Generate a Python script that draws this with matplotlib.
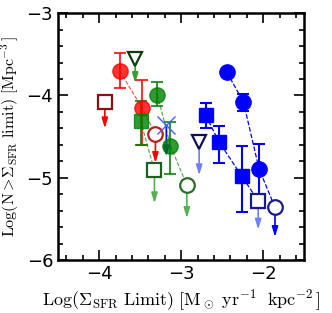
import matplotlib
matplotlib.use("Agg")
import matplotlib.pyplot as plt
from matplotlib.ticker import MultipleLocator

# filled points with error bars: x, y, y_upper, y_lower
red_x = [-3.75, -3.475]
red_y = [-3.70, -4.155]
red_hi = [-3.49, -3.81]
red_lo = [-3.91, -4.60]

green_circ_x = [-3.29, -3.13]
green_circ_y = [-3.99, -4.61]
green_circ_hi = [-3.84, -4.32]
green_circ_lo = [-4.13, -4.95]

green_sq_x = [-3.495]
green_sq_y = [-4.305]
green_sq_hi = [-4.07]
green_sq_lo = [-4.60]

blue_sq_x = [-2.70, -2.54, -2.26]
blue_sq_y = [-4.24, -4.56, -4.98]
blue_sq_hi = [-4.09, -4.37, -4.61]
blue_sq_lo = [-4.39, -4.82, -5.42]

blue_circ_x = [-2.44, -2.24, -2.05]
blue_circ_y = [-3.72, -4.08, -4.89]
blue_circ_hi = [-3.72, -3.985, -4.59]
blue_circ_lo = [-3.72, -4.19, -5.37]

# upper limits: x, y, arrow end
lim_x = [-3.93, -3.313, -3.56, -3.325, -2.93, -3.18, -2.78, -2.06, -1.855]
lim_y = [-4.08, -4.47, -3.56, -4.91, -5.09, -4.36, -4.57, -5.28, -5.36]
lim_end = [-4.40, -4.82, -3.85, -5.31, -5.49, -4.74, -4.97, -5.63, -5.72]
lim_marker = ["s", "o", "v", "s", "o", "x", "v", "s", "o"]
lim_edge = ["#8b1010", "#b22222", "#0a3d0a", "#1e5e1e", "#2a6e2a", "#4060ff", "#101050", "#1a1a90", "#1a1a90"]
lim_arrow = ["red", "red", "#33a033", "#55b055", "#55b055", "blue", "#7080ff", "#7080ff", "blue"]


def errpts(ax, x, y, hi, lo, color, marker, ms, alpha):
    yerr = [[yy - l for yy, l in zip(y, lo)], [h - yy for yy, h in zip(y, hi)]]
    ax.errorbar(x, y, yerr=yerr, fmt=marker, color=color, ms=ms, mec=color,
                capsize=4, elinewidth=1.5, capthick=1.5, alpha=alpha, zorder=3)


plt.rcParams["mathtext.fontset"] = "cm"
fig = plt.figure(figsize=(3.32, 3.13), dpi=100)
ax = fig.add_axes([0.175, 0.169, 0.741, 0.789])

# dashed connecting lines
ax.plot([red_x[0], red_x[1], lim_x[1]], [red_y[0], red_y[1], lim_y[1]], "--", color="red", lw=0.8, alpha=0.7)
ax.plot([green_circ_x[0], green_circ_x[1], lim_x[4]], [green_circ_y[0], green_circ_y[1], lim_y[4]],
        "--", color="green", lw=0.8, alpha=0.7)
ax.plot([green_sq_x[0], lim_x[3]], [green_sq_y[0], lim_y[3]], "--", color="green", lw=0.8, alpha=0.7)
ax.plot(blue_sq_x + [lim_x[7]], blue_sq_y + [lim_y[7]], "--", color="blue", lw=0.9)
ax.plot(blue_circ_x + [lim_x[8]], blue_circ_y + [lim_y[8]], "--", color="blue", lw=0.9)

# arrows for upper limits
for x, y, e, c in zip(lim_x, lim_y, lim_end, lim_arrow):
    ax.annotate("", xy=(x, e), xytext=(x, y),
                arrowprops=dict(arrowstyle="-|>,head_width=0.18,head_length=0.6", color=c, lw=1.2,
                                shrinkA=0, shrinkB=0), zorder=2)

errpts(ax, red_x, red_y, red_hi, red_lo, "red", "o", 11, 0.8)
errpts(ax, green_sq_x, green_sq_y, green_sq_hi, green_sq_lo, "green", "s", 10, 0.8)
errpts(ax, green_circ_x, green_circ_y, green_circ_hi, green_circ_lo, "green", "o", 11, 0.8)
errpts(ax, blue_sq_x, blue_sq_y, blue_sq_hi, blue_sq_lo, "blue", "s", 10, 1.0)
errpts(ax, blue_circ_x, blue_circ_y, blue_circ_hi, blue_circ_lo, "blue", "o", 11, 1.0)

for x, y, m, c in zip(lim_x, lim_y, lim_marker, lim_edge):
    if m == "x":
        ax.plot(x, y, m, color=c, ms=13, mew=1.0, zorder=4)
    else:
        ax.plot(x, y, m, mfc="white", mec=c, ms=10 if m != "o" else 10.5, mew=1.6, zorder=4)

ax.set_xlim(-4.5, -1.5)
ax.set_ylim(-6, -3)
ax.xaxis.set_major_locator(MultipleLocator(1))
ax.yaxis.set_major_locator(MultipleLocator(1))
ax.xaxis.set_minor_locator(MultipleLocator(0.2))
ax.yaxis.set_minor_locator(MultipleLocator(0.2))
ax.tick_params(which="both", direction="in", top=True, right=True, width=1.2, labelsize=13)
ax.tick_params(which="major", length=7)
ax.tick_params(which="minor", length=3.5)
for s in ax.spines.values():
    s.set_linewidth(1.8)

ax.set_xlabel(r"$\rm Log(\Sigma_{SFR}\ Limit)\ [M_\odot\ yr^{-1}\ \ kpc^{-2}\,]$", fontsize=13, labelpad=3)
ax.set_ylabel(r"$\rm Log(N >\!\Sigma_{SFR}\ limit)\ [Mpc^{-3}\,]$", fontsize=11.5)
ax.yaxis.set_label_coords(-0.15, 0.5)

fig.savefig("out.png", dpi=100)
